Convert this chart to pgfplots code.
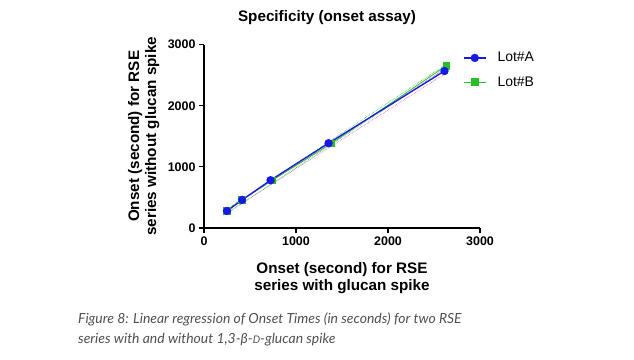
\documentclass[border=0pt]{standalone}
\usepackage{fontspec}
\setmainfont{Liberation Sans}
\newfontfamily\capfont{Lato}
\usepackage{pgfplots}
\pgfplotsset{compat=1.18}
\definecolor{lotA}{RGB}{25,25,230}
\definecolor{lotB}{RGB}{40,190,40}
\definecolor{bandA}{RGB}{230,80,200}
\definecolor{capgray}{RGB}{80,80,80}
\begin{document}
\begin{tikzpicture}
\useasboundingbox (0,0) rectangle (634bp,360bp);
\begin{axis}[
  scale only axis,
  width=276bp, height=183.3bp,
  at={(204bp,132bp)}, anchor=south west,
  xmin=0, xmax=3000, ymin=0, ymax=3000,
  axis x line=bottom, axis y line=left,
  axis line style={-, line width=1.3pt, black},
  xtick={0,1000,2000,3000}, ytick={0,1000,2000,3000},
  tick style={line width=1.2pt, black},
  tick align=outside, major tick length=5bp,
  clip=false,
  /pgf/number format/assume math mode=true,
  /pgf/number format/1000 sep={},
  tick label style={font=\bfseries\fontsize{12.5}{14}\selectfont},
  title={Specificity (onset assay)},
  title style={font=\bfseries\fontsize{15.3}{17}\selectfont, at={(axis description cs:0.4457,1)}, anchor=base, yshift=17.7bp},
  xlabel={Onset (second) for RSE\\series with glucan spike},
  xlabel style={font=\bfseries\fontsize{15.3}{17}\selectfont, align=center, at={(axis description cs:0.5,0)}, anchor=north, yshift=-31bp},
  ylabel={Onset (second) for RSE\\series without glucan spike},
  ylabel style={font=\bfseries\fontsize{15.3}{17}\selectfont, align=center, at={(axis description cs:-0.161,0.5)}, anchor=south, inner sep=0pt},
  legend style={draw=none, fill=none, at={(axis description cs:0.938,0.97)}, anchor=north west, font=\fontsize{14}{16}\selectfont, row sep=9bp, inner sep=0pt},
  legend cell align=left,
  reverse legend,
  legend image code/.code={\draw[#1,mark repeat=2,mark phase=2] plot coordinates {(0cm,0cm) (0.39cm,0cm) (0.78cm,0cm)}; \path (1.1cm,0cm);},
]
% confidence bands (dotted)
\addplot[forget plot, bandA, densely dotted, line width=0.6pt] coordinates {(250,250) (2614,2520)};
\addplot[forget plot, bandA, densely dotted, line width=0.6pt] coordinates {(250,300) (2614,2600)};
\addplot[forget plot, lotB, densely dotted, line width=0.6pt] coordinates {(250,240) (2633,2610)};
\addplot[forget plot, lotB, densely dotted, line width=0.6pt] coordinates {(250,310) (2633,2680)};
% Lot B
\addplot[lotB, line width=0.8pt, mark=square*, mark size=3.3bp, mark options={solid, fill=lotB, draw=lotB}] coordinates {
(250,279) (414,459) (744,782) (1383,1382) (2633,2656)};
\addlegendentry{Lot\#B}
% Lot A
\addplot[lotA, line width=1.3pt, mark=*, mark size=3.5bp, mark options={solid, fill=lotA, draw=lotA}] coordinates {
(250,279) (414,459) (723,782) (1354,1388) (2614,2569)};
\addlegendentry{Lot\#A}
\end{axis}
\node[anchor=base west, inner sep=0pt, text=capgray, font=\capfont\itshape\fontsize{14}{16}\selectfont] at (78bp,37bp) {Figure 8: Linear regression of Onset Times (in seconds) for two RSE};
\node[anchor=base west, inner sep=0pt, text=capgray, font=\capfont\itshape\fontsize{14}{16}\selectfont] at (78bp,17bp) {series with and without 1,3-β-{\fontsize{10.5}{12}\selectfont D}-glucan spike};
\end{tikzpicture}
\end{document}
